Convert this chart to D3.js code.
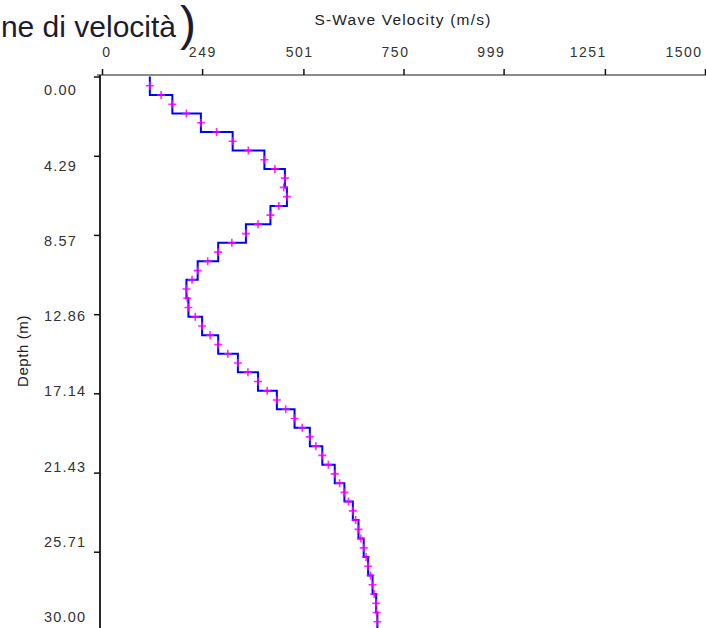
<!DOCTYPE html>
<html>
<head>
<meta charset="utf-8">
<script src="https://cdn.jsdelivr.net/npm/d3@7"></script>
<style>
  html, body { margin: 0; padding: 0; background: #fff; }
  svg { display: block; }
  text { font-family: "Liberation Sans", Arial, sans-serif; }
</style>
</head>
<body>
<svg id="chart" width="706" height="628"></svg>
<script>
// ---- data ----
const layerTop = [0,1,2,3,4,5,6,7,8,9,10,11,12,13,14,15,16,17,18,19,20,21,22,23,24,25,26,27,28,29];
const layerBottom = [1,2,3,4,5,6,7,8,9,10,11,12,13,14,15,16,17,18,19,20,21,22,23,24,25,26,27,28,29,30];
const layerVelocity = [119,175,246,325,404,455,460,419,358,289,238,210,215,249,289,338,388,435,479,517,548,579,603,624,638,651,662,673,682,685];

const markerDepth = [0.5,1,1.5,2,2.5,3,3.5,4,4.5,5,5.5,6,6.5,7,7.5,8,8.5,9,9.5,10,10.5,11,11.5,12,12.5,13,13.5,14,14.5,15,15.5,16,16.5,17,17.5,18,18.5,19,19.5,20,20.5,21,21.5,22,22.5,23,23.5,24,24.5,25,25.5,26,26.5,27,27.5,28,28.5,29,29.5];
const markerVelocity = [119,147,175,210,246,285,325,364,404,430,455,452,460,440,419,388,358,323,289,263,238,224,210,212,215,232,249,269,289,313,338,363,388,411,435,457,479,498,517,532,548,563,579,591,603,613,624,631,638,644,651,657,662,668,673,677,682,683,685];

const xTicks = [0,249,501,750,999,1251,1500];
const yTicks = [0,4.29,8.57,12.86,17.14,21.43,25.71,30];
const xTickLabels = ["0","249","501","750","999","1251","1500"];
const yTickLabels = ["0.00","4.29","8.57","12.86","17.14","21.43","25.71","30.00"];

const xTitle = "S-Wave Velocity (m/s)";
const yTitle = "Depth (m)";
const pageTitle = "ne di velocità";

// ---- scales ----
const svg = d3.select("#chart");
const x = d3.scaleLinear().domain([0, 1500]).range([102, 705]);
const y = d3.scaleLinear().domain([0, 30]).range([76.5, 631]);
// label placement scales (labels are offset from ticks in the original)
const xLabel = d3.scaleLinear().domain([0, 1500]).range([107, 684]);
const yLabel = d3.scaleLinear().domain([0, 30]).range([90, 617]);

// ---- page title fragment ----
svg.append("text")
  .attr("x", 176).attr("y", 37)
  .attr("text-anchor", "end")
  .attr("font-size", 30)
  .attr("fill", "#1c1c30")
  .text(pageTitle);
svg.append("text")
  .attr("x", 180).attr("y", 40)
  .attr("font-size", 48)
  .attr("fill", "#1c1c30")
  .text(")");

// ---- axes ----
const axisG = svg.append("g");
axisG.append("line")
  .attr("x1", 97).attr("x2", 706)
  .attr("y1", 75).attr("y2", 75)
  .attr("stroke", "#666").attr("stroke-width", 1.6);
axisG.append("line")
  .attr("x1", 100).attr("x2", 100)
  .attr("y1", 75).attr("y2", 640)
  .attr("stroke", "#111").attr("stroke-width", 1.8);

const xAxis = d3.axisTop(x).tickValues(xTicks).tickSize(6).tickSizeOuter(0).tickFormat("");
const gx = svg.append("g").attr("transform", "translate(0,75)").call(xAxis);
gx.select(".domain").remove();
gx.selectAll(".tick line").attr("stroke", "#111").attr("stroke-width", 1.5);

const yAxis = d3.axisLeft(y).tickValues(yTicks).tickSize(6).tickSizeOuter(0).tickFormat("");
const gy = svg.append("g").attr("transform", "translate(100,0)").call(yAxis);
gy.select(".domain").remove();
gy.selectAll(".tick line").attr("stroke", "#111").attr("stroke-width", 1.5);

// tick labels
svg.append("g").selectAll("text")
  .data(xTicks)
  .join("text")
  .attr("x", d => xLabel(d))
  .attr("y", 57)
  .attr("text-anchor", "middle")
  .attr("font-size", 14)
  .attr("letter-spacing", "1.5px")
  .attr("fill", "#333")
  .text((d, i) => xTickLabels[i]);

svg.append("g").selectAll("text")
  .data(yTicks)
  .join("text")
  .attr("x", 44)
  .attr("y", d => yLabel(d))
  .attr("dy", "0.36em")
  .attr("text-anchor", "start")
  .attr("font-size", 14.5)
  .attr("letter-spacing", "1.2px")
  .attr("fill", "#333")
  .text((d, i) => yTickLabels[i]);

// axis titles
svg.append("text")
  .attr("x", 403).attr("y", 25)
  .attr("text-anchor", "middle")
  .attr("font-size", 15.5)
  .attr("letter-spacing", "1.2px")
  .attr("fill", "#222")
  .text(xTitle);

svg.append("text")
  .attr("transform", "translate(28,351) rotate(-90)")
  .attr("text-anchor", "middle")
  .attr("font-size", 15)
  .attr("letter-spacing", "0.6px")
  .attr("fill", "#222")
  .text(yTitle);

// ---- step profile ----
const stepPts = [];
layerVelocity.forEach((v, i) => {
  stepPts.push([v, layerTop[i]]);
  stepPts.push([v, layerBottom[i]]);
});
const line = d3.line().x(d => x(d[0])).y(d => y(d[1]));
svg.append("path")
  .datum(stepPts)
  .attr("d", line)
  .attr("fill", "none")
  .attr("stroke", "#0000ff")
  .attr("stroke-width", 2);

// ---- markers ----
svg.append("g").selectAll("path")
  .data(markerDepth)
  .join("path")
  .attr("transform", (d, i) => `translate(${x(markerVelocity[i])},${y(d)})`)
  .attr("d", "M-4,0H4M0,-4V4")
  .attr("stroke", "#ff00ff")
  .attr("stroke-width", 1.6)
  .attr("stroke-opacity", 0.85)
  .attr("fill", "none");
</script>
</body>
</html>
